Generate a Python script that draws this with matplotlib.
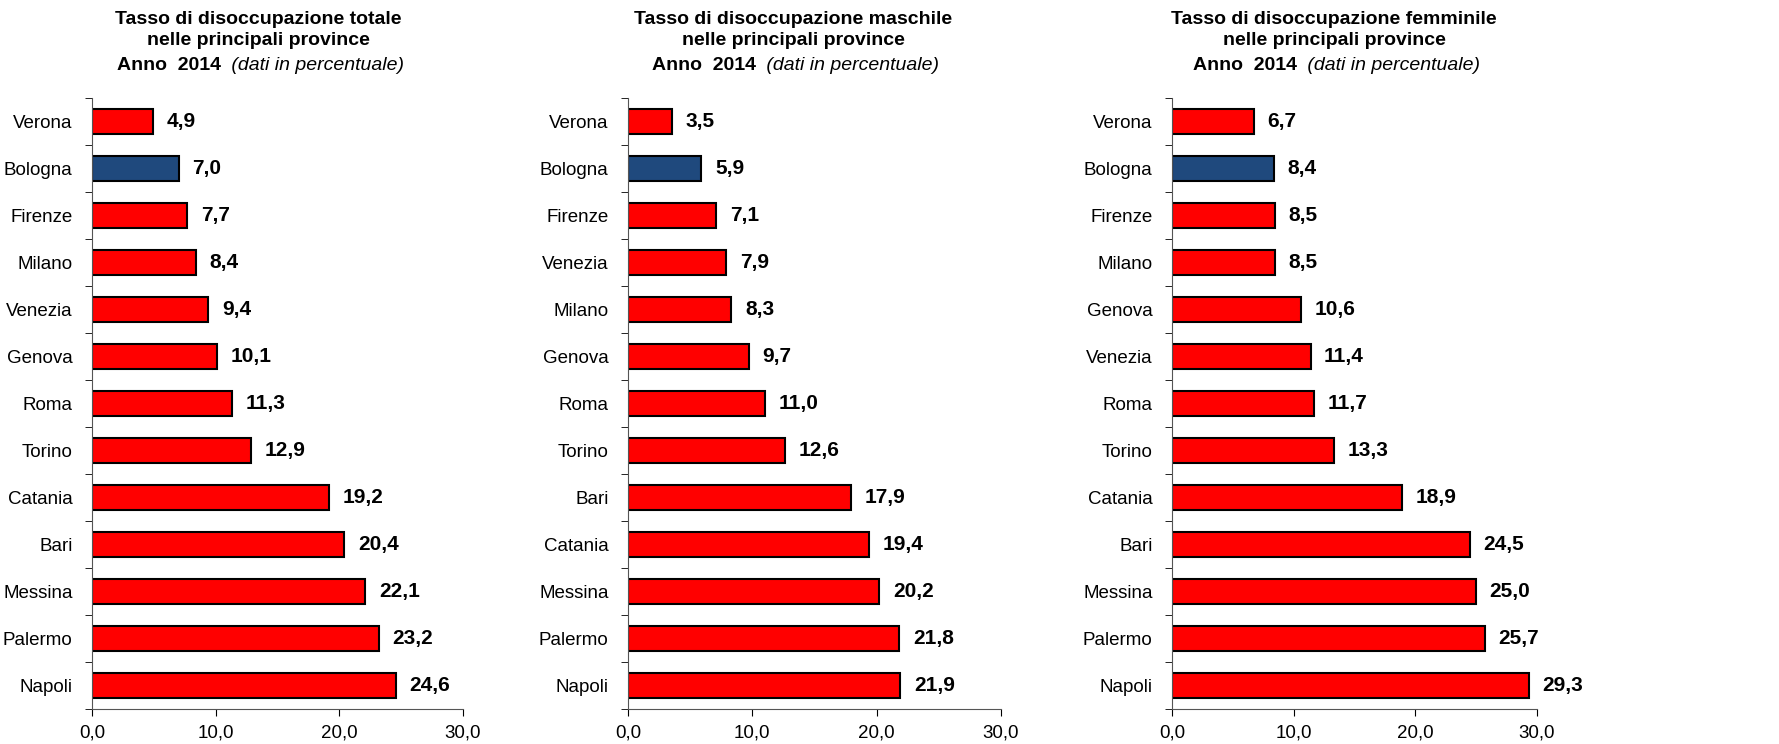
import matplotlib.pyplot as plt
from matplotlib.ticker import FixedLocator

plt.rcParams['font.family'] = ['Liberation Sans', 'DejaVu Sans']
FS_TICK, FS_VAL, FS_TITLE = 13.5, 15, 14

# data, top to bottom as in the picture
tot_labels = ['Verona', 'Bologna', 'Firenze', 'Milano', 'Venezia', 'Genova', 'Roma',
              'Torino', 'Catania', 'Bari', 'Messina', 'Palermo', 'Napoli']
tot_values = [4.9, 7.0, 7.7, 8.4, 9.4, 10.1, 11.3, 12.9, 19.2, 20.4, 22.1, 23.2, 24.6]

mas_labels = ['Verona', 'Bologna', 'Firenze', 'Venezia', 'Milano', 'Genova', 'Roma',
              'Torino', 'Bari', 'Catania', 'Messina', 'Palermo', 'Napoli']
mas_values = [3.5, 5.9, 7.1, 7.9, 8.3, 9.7, 11.0, 12.6, 17.9, 19.4, 20.2, 21.8, 21.9]

fem_labels = ['Verona', 'Bologna', 'Firenze', 'Milano', 'Genova', 'Venezia', 'Roma',
              'Torino', 'Catania', 'Bari', 'Messina', 'Palermo', 'Napoli']
fem_values = [6.7, 8.4, 8.5, 8.5, 10.6, 11.4, 11.7, 13.3, 18.9, 24.5, 25.0, 25.7, 29.3]

titles = ['Tasso di disoccupazione totale\nnelle principali province',
          'Tasso di disoccupazione maschile\nnelle principali province',
          'Tasso di disoccupazione femminile\nnelle principali province']

x_ticks = [0, 10, 20, 30]

RED = '#ff0000'
BLUE = '#1f497d'

fig = plt.figure(figsize=(17.79, 7.44), dpi=100)

panels = [
    (0.0517, 0.2085, tot_labels, tot_values, 0.145),
    (0.3530, 0.2097, mas_labels, mas_values, 0.446),
    (0.6588, 0.2052, fem_labels, fem_values, 0.750),
]

for (left, width, labels, values, tx), title in zip(panels, titles):
    ax = fig.add_axes([left, 0.047, width, 0.821])
    n = len(labels)
    ypos = list(range(n))
    colors = [BLUE if c == 'Bologna' else RED for c in labels]
    ax.barh(ypos, values, height=0.52, color=colors, edgecolor='black', linewidth=1.5)
    for y, v in zip(ypos, values):
        ax.text(v + 1.1, y, f'{v:.1f}'.replace('.', ','), va='center', ha='left',
                fontsize=FS_VAL, fontweight='bold')
    ax.set_ylim(n - 0.5, -0.5)
    ax.set_xlim(0, 30)
    ax.set_yticks(ypos)
    ax.set_yticklabels(labels, fontsize=FS_TICK)
    ax.tick_params(axis='y', which='major', length=0, pad=14)
    ax.yaxis.set_minor_locator(FixedLocator([i - 0.5 for i in range(n + 1)]))
    ax.tick_params(axis='y', which='minor', length=5, direction='out')
    ax.set_xticks(x_ticks)
    ax.set_xticklabels([f'{t:.1f}'.replace('.', ',') for t in x_ticks], fontsize=FS_TICK)
    ax.tick_params(axis='x', length=5, direction='out', pad=6)
    ax.spines['top'].set_visible(False)
    ax.spines['right'].set_visible(False)
    ax.spines['left'].set_color('#555555')
    ax.spines['bottom'].set_color('#555555')

    fig.text(tx, 0.985, title, ha='center', va='top', fontsize=FS_TITLE,
             fontweight='bold', linespacing=1.3)
    fig.text(tx - 0.018, 0.912, 'Anno  2014 ', ha='right', va='center',
             fontsize=FS_TITLE, fontweight='bold')
    fig.text(tx - 0.018, 0.912, ' (dati in percentuale)', ha='left', va='center',
             fontsize=FS_TITLE, style='italic')

fig.savefig('out.png', dpi=100)
